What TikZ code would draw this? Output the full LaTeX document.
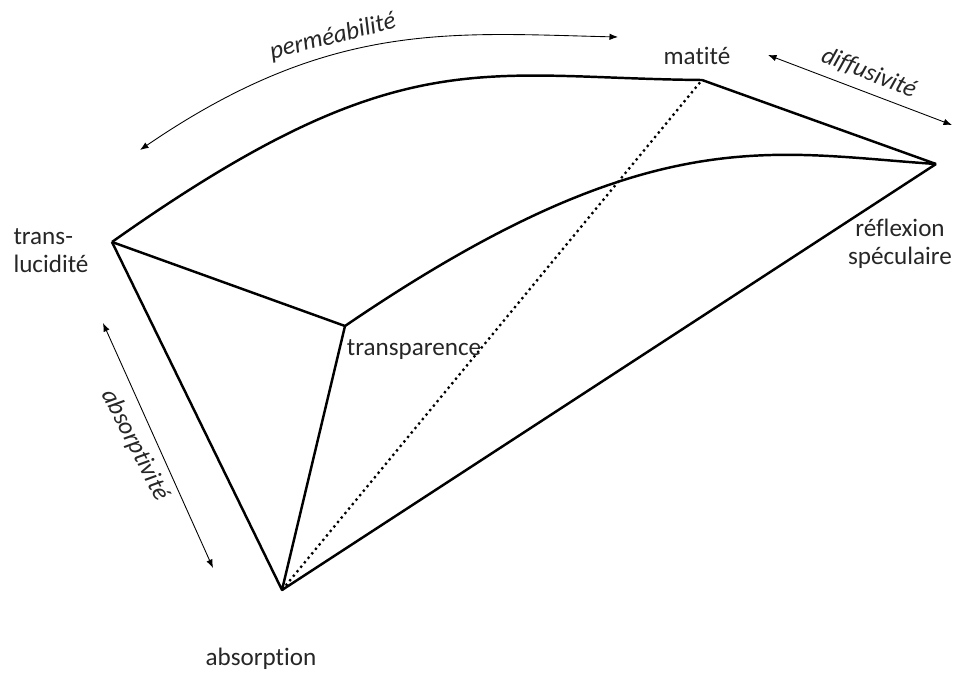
\documentclass[tikz,border=0pt]{standalone}
\usepackage{fontspec}
\setmainfont{Carlito}[Ligatures=NoCommon]
\usetikzlibrary{arrows.meta}

\tikzset{
    edge/.style={line width=1.4pt, line join=round},
    hidden/.style={line width=1.3pt, dotted},
    scalearrow/.style={line width=0.5pt, {Latex[length=1.7mm,width=1.3mm]}-{Latex[length=1.7mm,width=1.3mm]}},
    vlabel/.style={font=\fontsize{14.3}{16}\selectfont, text=black!85, inner sep=0pt},
    alabel/.style={font=\fontsize{14.3}{16}\selectfont\itshape, text=black!85, inner sep=0pt}
}

\begin{document}
\begin{tikzpicture}[x=0.2mm, y=-0.2mm]
    \useasboundingbox (0,0) rectangle (954,672);

    % corners of the solid
    \coordinate (trans) at (112,242);
    \coordinate (transp) at (345,326);
    \coordinate (mat) at (702,80);
    \coordinate (refl) at (936,164);
    \coordinate (abs) at (282,590);

    % edges
    \draw[edge] (trans) .. controls (400,38) and (480,78) .. (mat);
    \draw[edge] (transp) .. controls (650,118) and (770,153) .. (refl);
    \draw[edge] (mat) -- (refl);
    \draw[edge] (trans) -- (transp);
    \draw[edge] (trans) -- (abs) -- (transp);
    \draw[edge] (abs) -- (refl);
    \draw[hidden] (abs) -- (mat);

    % vertex labels
    \node[vlabel, align=left] (l-trans) at (51,251) {trans-\\lucidité};
    \node[vlabel] (l-transp) at (414,350) {transparence};
    \node[vlabel] (l-mat) at (697,56) {matité};
    \node[vlabel, align=center] (l-refl) at (900,244) {réflexion\\spéculaire};
    \node[vlabel] (l-abs) at (261,659) {absorption};

    % scales
    \coordinate (perm-a) at (140,150);
    \coordinate (perm-b) at (618,37);
    \draw[scalearrow] (perm-a) .. controls (330,20) and (450,33) .. (perm-b);
    \node[alabel, rotate=14] (l-perm) at (333,37) {perméabilité};

    \coordinate (diff-a) at (768,55);
    \coordinate (diff-b) at (952,125);
    \draw[scalearrow] (diff-a) -- (diff-b);
    \node[alabel, rotate=-22] (l-diff) at (869,73) {diffusivité};

    \coordinate (absv-a) at (103,323);
    \coordinate (absv-b) at (213,568);
    \draw[scalearrow] (absv-a) -- (absv-b);
    \node[alabel, rotate=-63] (l-absv) at (135,445) {absorptivité};
\end{tikzpicture}
\end{document}
